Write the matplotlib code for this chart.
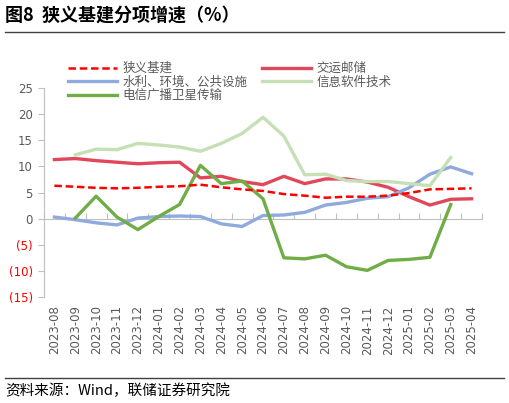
import numpy as np
import matplotlib.pyplot as plt
from matplotlib.lines import Line2D
from matplotlib.ticker import FixedLocator, FuncFormatter

plt.rcParams['font.family'] = ['Noto Sans CJK SC', 'DejaVu Sans']

months = ["2023-08", "2023-09", "2023-10", "2023-11", "2023-12", "2024-01",
          "2024-02", "2024-03", "2024-04", "2024-05", "2024-06", "2024-07",
          "2024-08", "2024-09", "2024-10", "2024-11", "2024-12", "2025-01",
          "2025-02", "2025-03", "2025-04"]

infra = [6.3, 6.1, 5.9, 5.8, 5.9, 6.1, 6.2, 6.5, 6.0, 5.6, 5.3, 4.7,
         4.4, 4.0, 4.2, 4.2, 4.4, 4.9, 5.6, 5.7, 5.8]
transport = [11.3, 11.5, 11.1, 10.8, 10.5, 10.7, 10.8, 7.8, 8.1, 7.1, 6.5, 8.1,
             6.7, 7.6, 7.6, 7.0, 6.0, 4.2, 2.6, 3.7, 3.8]
water = [0.3, -0.2, -0.8, -1.2, 0.1, 0.4, 0.5, 0.4, -1.0, -1.5, 0.6, 0.7,
         1.2, 2.6, 3.1, 3.9, 4.2, 5.9, 8.5, 9.9, 8.6]
software = [np.nan, 12.2, 13.3, 13.2, 14.4, 14.1, 13.7, 12.9, 14.4, 16.3, 19.4, 15.8,
            8.4, 8.5, 7.3, 7.1, 7.1, 6.7, 6.3, 11.7, np.nan]
telecom = [np.nan, 0.1, 4.3, 0.3, -2.1, 0.4, 2.7, 10.2, 6.7, 7.2, 3.8, -7.5,
           -7.7, -7.0, -9.2, -9.9, -8.0, -7.8, -7.4, 2.7, np.nan]

grey = "#595959"
fig = plt.figure(figsize=(5.09, 4.03), dpi=100)
ax = fig.add_axes([0.0864, 0.263, 0.8606, 0.5186])

x = np.arange(len(months))
l1, = ax.plot(x, infra, color="#FF0000", lw=1.8, ls=(0, (3, 1.5)), label="狭义基建", zorder=5)
l2, = ax.plot(x, transport, color="#E0475B", lw=2.4, label="交运邮储")
l3, = ax.plot(x, water, color="#8FAADC", lw=2.4, label="水利、环境、公共设施")
l4, = ax.plot(x, software, color="#C5E0B4", lw=2.4, label="信息软件技术")
l5, = ax.plot(x, telecom, color="#70AD47", lw=2.4, label="电信广播卫星传输")

ax.set_xlim(-0.5, len(months) - 0.5)
ax.set_ylim(-15, 25)
ax.set_yticks(np.arange(-15, 26, 5))
ax.yaxis.set_major_formatter(FuncFormatter(lambda v, p: f"({abs(int(v))})" if v < 0 else f"{int(v)}"))
for lab, v in zip(ax.get_yticklabels(), np.arange(-15, 26, 5)):
    lab.set_color("#FF0000" if v < 0 else grey)
    lab.set_family("DejaVu Sans")
ax.tick_params(axis="y", length=4, color="#BFBFBF", labelsize=8.5, pad=4)

ax.set_xticks(x)
ax.set_xticklabels(months, rotation=90, color=grey, fontsize=8.5, family="DejaVu Sans")
ax.tick_params(axis="x", length=0, pad=6)

for s in ["top", "right", "bottom"]:
    ax.spines[s].set_visible(False)
ax.spines["left"].set_color("#BFBFBF")

# category axis drawn through zero
zero_ax = ax.secondary_xaxis(15 / 40)
zero_ax.xaxis.set_major_locator(FixedLocator(np.arange(-0.5, len(months), 1)))
zero_ax.tick_params(direction="in", length=4, color="#BFBFBF", labelbottom=False)
zero_ax.spines["bottom"].set_color("#BFBFBF")

fig.legend(handles=[l1, l3, l5, l2, l4], loc="upper left", bbox_to_anchor=(0.1336, 0.846),
           ncol=2, frameon=False, fontsize=9, handlelength=3.9, handletextpad=0.45,
           labelspacing=0.05, columnspacing=1.2, borderpad=0, borderaxespad=0,
           labelcolor=grey)

fig.text(0.01, 0.962, "图8  狭义基建分项增速（%）", fontsize=13, fontweight="bold", va="center")
fig.add_artist(Line2D([0.01, 0.99], [0.921, 0.921], color="#404040", lw=1))
fig.add_artist(Line2D([0.01, 0.99], [0.062, 0.062], color="#404040", lw=1))
fig.text(0.01, 0.03, "资料来源：Wind，联储证券研究院", fontsize=10.5, va="center")

fig.savefig("out.png", dpi=100)
